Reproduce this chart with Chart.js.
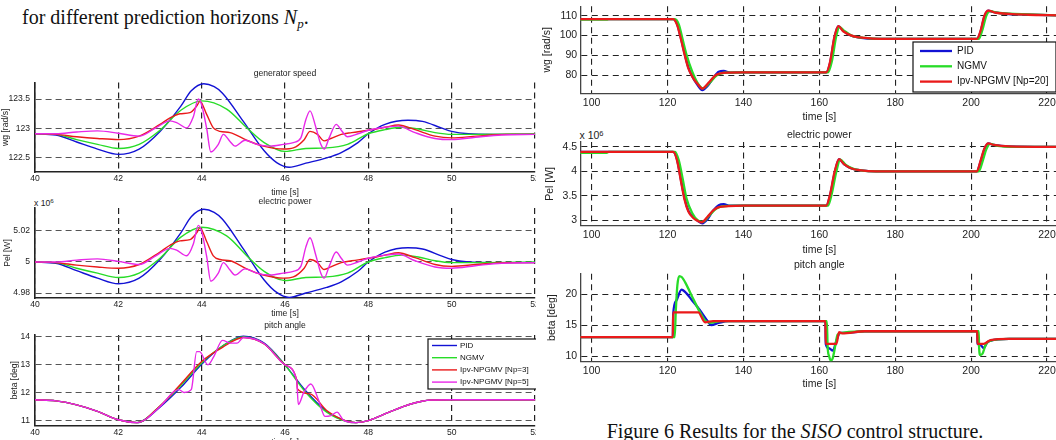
<!DOCTYPE html>
<html>
<head>
<meta charset="utf-8">
<script src="https://cdn.jsdelivr.net/npm/chart.js@4"></script>
<style>
  body { margin: 0; width: 1056px; height: 440px; overflow: hidden; background: #fff; position: relative; }
  canvas { position: absolute; }
  .serif { position: absolute; font-family: "Liberation Serif", "Times New Roman", serif; color: #111; white-space: nowrap; line-height: 1; }
  .sans { position: absolute; font-family: "Liberation Sans", Arial, sans-serif; color: #222; white-space: nowrap; line-height: 1; }
  .sup { position: relative; top: -0.45em; font-size: 0.72em; }
</style>
</head>
<body>
<div class="serif" style="left:22px;top:6.5px;font-size:20px">for different prediction horizons <i>N</i><i style="font-size:13px;position:relative;top:4px">p</i>.</div>
<div class="sans" style="left:34px;top:198.5px;font-size:8.6px">x 10<span class="sup">6</span></div>
<div class="sans" style="left:579.5px;top:130.4px;font-size:10.5px">x 10<span class="sup">6</span></div>
<div class="serif" style="left:545px;width:500px;text-align:center;top:421.3px;font-size:20px">Figure 6 Results for the <i>SISO</i> control structure.</div>

<canvas id="gs"></canvas>
<canvas id="pw"></canvas>
<canvas id="pa"></canvas>
<canvas id="rw"></canvas>
<canvas id="rp"></canvas>
<canvas id="rb"></canvas>

<script>
const F = '"Liberation Sans", Arial, Helvetica, sans-serif';
const BLUE = '#1212d4', GREEN = '#28dc28', RED = '#ea1a1a', MAG = '#e828e8';

// legends and ticks
const leftNames = ['PID', 'NGMV', 'Ipv-NPGMV [Np=3]', 'Ipv-NPGMV [Np=5]'];
const rightNames = ['PID', 'NGMV', 'Ipv-NPGMV [Np=20]'];
const leftTimeTicks = [40, 42, 44, 46, 48, 50, 52];
const rightTimeTicks = [100, 120, 140, 160, 180, 200, 220];
const gsTicks = [122.5, 123, 123.5];
const pwTicks = [4.98, 5, 5.02];
const paTicks = [11, 12, 13, 14];
const rwTicks = [80, 90, 100, 110];
const rpTicks = [3, 3.5, 4, 4.5];
const rbTicks = [10, 15, 20];

// left figure: generator speed [t, wg]
const gsPid = [[40,122.91],[40.5,122.89],[41,122.77],[41.5,122.65],[42,122.56],[42.5,122.65],[43,122.95],[43.5,123.38],[43.75,123.64],[44.05,123.76],[44.3,123.71],[44.5,123.6],[45,123.12],[45.5,122.62],[45.8,122.42],[46.1,122.34],[46.5,122.41],[47,122.5],[47.35,122.59],[47.75,122.76],[48,122.91],[48.4,123.07],[48.95,123.14],[49.3,123.12],[49.75,123.01],[50,122.95],[50.4,122.91],[51,122.9],[52,122.9]];
const gsNgmv = [[40,122.91],[40.5,122.9],[41,122.81],[41.5,122.73],[42,122.66],[42.5,122.73],[43,122.97],[43.5,123.31],[44,123.47],[44.6,123.33],[45.1,123.0],[45.5,122.76],[46,122.61],[46.5,122.66],[47,122.67],[47.5,122.73],[48,122.91],[48.4,122.98],[48.8,123.02],[49.2,122.99],[49.6,122.93],[50,122.9],[50.6,122.9],[52,122.91]];
const gsNp3 = [[40,122.91],[40.5,122.9],[41,122.86],[41.5,122.83],[42,122.81],[42.5,122.87],[43,123.07],[43.24,123.18],[43.48,123.25],[43.72,123.27],[43.88,123.38],[43.96,123.46],[44.12,123.24],[44.28,123.01],[44.44,122.95],[44.68,122.93],[45.08,122.8],[45.48,122.7],[45.96,122.65],[46.2,122.67],[46.46,122.81],[46.6,122.95],[46.78,122.9],[46.94,122.79],[47.1,122.83],[47.35,122.9],[47.6,122.93],[48,122.97],[48.4,123.02],[48.72,123.06],[49.12,122.98],[49.6,122.87],[50,122.84],[50.6,122.87],[51.3,122.9],[52,122.9]];
const gsNp5 = [[40,122.91],[40.5,122.91],[41,122.94],[41.5,122.96],[42,122.92],[42.5,122.87],[42.9,123.01],[43.24,123.13],[43.4,123.1],[43.64,123.01],[43.8,123.2],[43.92,123.5],[44,123.4],[44.12,123.0],[44.22,122.6],[44.4,122.73],[44.52,122.9],[44.68,122.78],[44.8,122.7],[45.04,122.8],[45.32,122.73],[45.64,122.7],[45.96,122.73],[46.2,122.76],[46.38,122.84],[46.5,123.15],[46.6,123.3],[46.74,123.02],[46.86,122.73],[46.94,122.65],[47.06,122.84],[47.23,123.07],[47.35,122.97],[47.5,122.86],[47.75,122.91],[48,122.97],[48.4,123.02],[48.72,123.04],[49.12,122.93],[49.6,122.83],[50,122.81],[50.57,122.85],[51.2,122.89],[52,122.9]];

// left figure: electric power [t, Pel x1e6]
const pwPid = [[40,5.0],[40.5,4.9992],[41,4.9944],[41.5,4.9896],[42,4.986],[42.5,4.9896],[43,5.0016],[43.5,5.0188],[43.75,5.0292],[44.05,5.034],[44.3,5.032],[44.5,5.0276],[45,5.0084],[45.5,4.9884],[45.8,4.9804],[46.1,4.9772],[46.5,4.98],[47,4.9836],[47.35,4.9872],[47.75,4.994],[48,5.0],[48.4,5.0064],[48.95,5.0092],[49.3,5.0084],[49.75,5.004],[50,5.0016],[50.4,5.0],[51,4.9996],[52,4.9996]];
const pwNgmv = [[40,5.0],[40.5,4.9996],[41,4.996],[41.5,4.9928],[42,4.99],[42.5,4.9928],[43,5.0024],[43.5,5.016],[44,5.0224],[44.6,5.0168],[45.1,5.0036],[45.5,4.994],[46,4.988],[46.5,4.99],[47,4.9904],[47.5,4.9928],[48,5.0],[48.4,5.0028],[48.8,5.0044],[49.2,5.0032],[49.6,5.0008],[50,4.9996],[50.6,4.9996],[52,5.0]];
const pwNp3 = [[40,5.0],[40.5,4.9996],[41,4.998],[41.5,4.9968],[42,4.996],[42.5,4.9984],[43,5.0064],[43.24,5.0108],[43.48,5.0136],[43.72,5.0144],[43.88,5.0188],[43.96,5.022],[44.12,5.0132],[44.28,5.004],[44.44,5.0016],[44.68,5.0008],[45.08,4.9956],[45.48,4.9916],[45.96,4.9896],[46.2,4.9904],[46.46,4.996],[46.6,5.0016],[46.78,4.9996],[46.94,4.9952],[47.1,4.9968],[47.35,4.9996],[47.6,5.0008],[48,5.0024],[48.4,5.0044],[48.72,5.006],[49.12,5.0028],[49.6,4.9984],[50,4.9972],[50.6,4.9984],[51.3,4.9996],[52,4.9996]];
const pwNp5 = [[40,5.0],[40.5,5.0],[41,5.0012],[41.5,5.002],[42,5.0004],[42.5,4.9984],[42.9,5.004],[43.24,5.0088],[43.4,5.0076],[43.64,5.004],[43.8,5.0116],[43.92,5.0236],[44,5.0196],[44.12,5.0036],[44.22,4.9876],[44.4,4.9928],[44.52,4.9996],[44.68,4.9948],[44.8,4.9916],[45.04,4.9956],[45.32,4.9928],[45.64,4.9916],[45.96,4.9928],[46.2,4.994],[46.38,4.9972],[46.5,5.0096],[46.6,5.0156],[46.74,5.0044],[46.86,4.9928],[46.94,4.9896],[47.06,4.9972],[47.23,5.0064],[47.35,5.0024],[47.5,4.998],[47.75,5.0],[48,5.0024],[48.4,5.0044],[48.72,5.0052],[49.12,5.0008],[49.6,4.9968],[50,4.996],[50.57,4.9976],[51.2,4.9992],[52,4.9996]];

// left figure: pitch angle [t, beta]
const paPid = [[40,11.74],[40.5,11.7],[41,11.56],[41.5,11.33],[42,11.03],[42.45,10.93],[43,11.48],[43.5,12.18],[44,13.0],[44.5,13.65],[45,14.0],[45.5,13.75],[46,12.98],[46.5,12.05],[47,11.33],[47.5,10.97],[47.7,10.93],[48,11.0],[48.5,11.3],[49,11.58],[49.5,11.73],[50,11.74],[52,11.74]];
const paNgmv = [[40,11.74],[40.5,11.7],[41,11.56],[41.5,11.33],[42,11.03],[42.45,10.93],[43,11.52],[43.5,12.25],[44,13.05],[44.5,13.65],[45,13.97],[45.5,13.73],[46,12.97],[46.5,12.0],[47,11.3],[47.5,10.96],[47.7,10.93],[48,11.0],[48.5,11.3],[49,11.58],[49.5,11.73],[50,11.74],[52,11.74]];
const paNp3 = [[40,11.74],[40.5,11.7],[41,11.56],[41.5,11.33],[42,11.03],[42.45,10.93],[43,11.52],[43.5,12.3],[44,13.1],[44.5,13.6],[45,13.95],[45.5,13.72],[46,12.98],[46.28,12.45],[46.3,12.12],[46.6,11.95],[47,11.36],[47.5,10.97],[47.7,10.93],[48,11.0],[48.5,11.3],[49,11.58],[49.5,11.73],[50,11.74],[52,11.74]];
const paNp5 = [[40,11.74],[40.5,11.7],[41,11.56],[41.5,11.33],[42,11.03],[42.45,10.93],[43,11.5],[43.35,12.05],[43.45,12.1],[43.58,12.0],[43.75,12.1],[43.88,13.45],[43.95,13.45],[44.15,12.98],[44.3,13.3],[44.5,13.85],[44.7,13.75],[44.85,13.75],[45,13.95],[45.5,13.73],[46,12.98],[46.28,12.42],[46.32,11.57],[46.45,12.0],[46.62,12.3],[46.8,11.75],[46.96,11.15],[47.1,11.18],[47.25,11.3],[47.4,11.02],[47.7,10.93],[48,11.0],[48.5,11.3],[49,11.58],[49.5,11.73],[50,11.74],[52,11.74]];

// right figure: generator speed
const rwPid = [[97,108.3],[121.5,108.3],[122.5,106],[123.5,99],[124.5,91],[125.5,84],[126.5,79.5],[127.8,75.5],[129.2,72.6],[130.5,74.5],[132,78.5],[133.5,81.8],[134.8,82.2],[136.5,81.4],[140,81.5],[161.8,81.5],[162.8,86],[164,99],[165,104.8],[166.3,102.5],[168,100.3],[171,98.8],[175,98.3],[201.5,98.3],[202.5,102],[203.5,109.5],[204.5,112.5],[206,111.8],[209,111],[215,110.6],[223,110.2]];
const rwNgmv = [[97,108],[104,108],[104.5,108.3],[122,108.3],[123,105.5],[124,98],[125,90.5],[126.5,82],[128,76],[129.3,73.5],[131,76],[133,80],[135,81.3],[140,81.5],[162.3,81.5],[163.3,87],[164.5,100],[165.3,104.3],[166.5,102.5],[168.5,100],[172,98.8],[176,98.3],[202,98.3],[203,103],[204,110],[205,112.3],[207,111.5],[210,111],[215,110.7],[223,110.2]];
const rwNp20 = [[97,108.3],[121.5,108.3],[122.5,105.5],[123.5,98.5],[124.5,90.5],[125.5,83.5],[126.8,78.5],[128,75.5],[129.2,73.3],[130.8,76.2],[132.5,79.8],[134,81],[136,81.4],[140,81.5],[161.8,81.5],[162.8,86.5],[164,99.5],[165,104.8],[166.3,102.2],[168.5,100],[172,98.8],[176,98.3],[201.5,98.3],[202.5,102.5],[203.5,110],[204.5,112.6],[206.5,111.5],[210,110.9],[215,110.5],[223,110.2]];

// right figure: electric power
const rpPid = [[97,4.4],[121.5,4.4],[122.5,4.25],[123.5,3.85],[124.5,3.45],[125.5,3.2],[126.8,3.07],[128,2.99],[129.2,2.94],[130.5,3.02],[132,3.2],[133.5,3.31],[134.8,3.33],[136.5,3.3],[161.8,3.3],[162.8,3.5],[164,3.95],[165.2,4.25],[166.5,4.15],[168.5,4.06],[171,4.02],[175,4.0],[201.5,4.0],[202.5,4.2],[203.5,4.45],[204.5,4.57],[206,4.54],[210,4.51],[223,4.5]];
const rpNgmv = [[97,4.38],[104,4.38],[104.5,4.4],[122,4.4],[123,4.22],[124,3.85],[125,3.45],[126.5,3.15],[128,3.0],[129.3,2.97],[131,3.1],[133,3.25],[135,3.29],[140,3.3],[162.3,3.3],[163.3,3.55],[164.5,4.0],[165.5,4.24],[167,4.13],[169,4.05],[172,4.01],[176,4.0],[202,4.0],[203,4.2],[204,4.45],[205,4.56],[207,4.52],[211,4.5],[223,4.5]];
const rpNp20 = [[97,4.4],[121.5,4.4],[122.5,4.23],[123.5,3.82],[124.5,3.42],[125.5,3.18],[126.8,3.05],[128,2.99],[129,2.96],[130.5,3.07],[132,3.2],[133.5,3.27],[136,3.29],[140,3.3],[161.8,3.3],[162.8,3.52],[164,3.98],[165.2,4.25],[166.5,4.15],[168.5,4.06],[171,4.02],[175,4.0],[201.5,4.0],[202.5,4.22],[203.5,4.47],[204.5,4.57],[206,4.54],[210,4.51],[223,4.5]];

// right figure: pitch angle
const rbPid = [[97,13.1],[121.4,13.1],[121.5,16.8],[122.3,19],[123.7,20.8],[125,20.2],[126.3,19.2],[128.5,17.5],[130.8,15.5],[131.5,15.05],[133.5,15.4],[136,15.7],[161.6,15.7],[161.7,12],[162.5,11.3],[163.6,10.9],[164.5,12.5],[165.5,13.8],[167,13.8],[172,14.05],[201.6,14.05],[201.7,12],[202.5,11.8],[203.3,11.3],[204.2,12.2],[205,12.5],[210,12.8],[223,12.8]];
const rbNgmv = [[97,13.1],[121.9,13.1],[122.2,17.5],[122.6,21.5],[123.1,23],[123.8,22.8],[124.9,21.7],[126.7,19.4],[128.5,17.2],[129.9,15.8],[131.3,15.4],[134,15.7],[162,15.7],[162.2,11.5],[162.6,10],[163,9.3],[163.5,9.6],[164.3,12],[164.8,13.5],[166,13.8],[172,14.05],[202,14.05],[202.1,11.5],[202.4,10.2],[203,10.4],[203.8,11.8],[204.6,12.4],[210,12.8],[223,12.8]];
const rbNp20 = [[97,13.1],[121.4,13.1],[121.5,17.1],[128.1,17.1],[129.9,15.5],[132,15.7],[161.6,15.7],[161.7,12],[164.5,12],[165.2,13.9],[166,13.7],[172,14.05],[201.6,14.05],[201.7,12],[203.3,12],[205.1,12.6],[210,12.8],[223,12.8]];

// matlab-like boxed legend drawn inside the plot
const boxLegend = {
  id: 'boxLegend',
  afterDatasetsDraw(chart, args, o) {
    if (!o.box) return;
    const ctx = chart.ctx;
    const [bx, by, bw, bh] = o.box;
    ctx.save();
    ctx.fillStyle = '#fff';
    ctx.fillRect(bx, by, bw, bh);
    ctx.strokeStyle = '#111';
    ctx.lineWidth = 1.2;
    ctx.strokeRect(bx, by, bw, bh);
    ctx.font = o.size + 'px ' + F;
    ctx.textBaseline = 'middle';
    chart.data.datasets.forEach((ds, i) => {
      const y = by + o.first + i * o.step;
      ctx.strokeStyle = ds.borderColor;
      ctx.lineWidth = ds.borderWidth;
      ctx.beginPath();
      ctx.moveTo(bx + o.line[0], y);
      ctx.lineTo(bx + o.line[1], y);
      ctx.stroke();
      ctx.fillStyle = '#111';
      ctx.fillText(ds.label, bx + o.text, y);
    });
    ctx.restore();
  }
};
Chart.register(boxLegend);

const leftStyle = { fs: 8.6, lw: 1.4, axis: '#222', aw: 1.6, gridX: '#222', gwX: 1.2, gridY: '#555', gwY: 1, dash: [6, 4], yW: 35, yPad: 5, padRight: 1, padTop: 0, xr: [40, 52], xt: leftTimeTicks, names: leftNames, colors: [BLUE, GREEN, RED, MAG] };
const rightStyle = { fs: 10.5, lw: 2.3, axis: '#444', aw: 1.3, gridX: '#222', gwX: 1.1, gridY: '#222', gwY: 1.1, dash: [6, 4.5], yW: 50.2, yPad: 3, padRight: 1.6, padTop: 0, xr: [97, 223], xt: rightTimeTicks, names: rightNames, colors: [BLUE, GREEN, RED] };

function mkChart(id, c) {
  const cv = document.getElementById(id);
  cv.width = c.w; cv.height = c.h;
  cv.style.left = c.x + 'px'; cv.style.top = c.y + 'px';
  const font = { family: F, size: c.fs };
  const n = c.series.length;
  new Chart(cv, {
    type: 'line',
    data: {
      datasets: c.series.map((s, i) => ({
        label: c.names[i],
        data: s.map(p => ({ x: p[0], y: p[1] })),
        borderColor: c.colors[i],
        borderWidth: c.lw,
        pointRadius: 0,
        fill: false,
        cubicInterpolationMode: 'monotone',
        order: n - i
      }))
    },
    options: {
      responsive: false,
      animation: false,
      events: [],
      layout: { padding: { left: 0, top: c.padTop, right: c.padRight, bottom: 0 } },
      plugins: {
        legend: { display: false },
        tooltip: { enabled: false },
        title: {
          display: !!c.title, text: c.title || '', fullSize: false, color: '#222',
          font: { family: F, size: c.fs, weight: 'normal' },
          padding: { top: c.tPad ? c.tPad[0] : 0, bottom: c.tPad ? c.tPad[1] : 0 }
        },
        boxLegend: c.legend || {}
      },
      scales: {
        x: {
          type: 'linear', min: c.xr[0], max: c.xr[1],
          afterBuildTicks: s => { s.ticks = c.xt.map(v => ({ value: v })); },
          afterFit: s => { s.height = c.xH; s.paddingLeft = 0; s.paddingRight = 0; },
          ticks: { padding: c.xPad, color: '#222', font, maxRotation: 0, autoSkip: false, callback: v => String(v) },
          grid: { color: c.gridX, lineWidth: c.gwX, drawTicks: false },
          border: { color: c.axis, width: c.aw, dash: c.dash },
          title: { display: true, text: 'time [s]', color: '#222', font, padding: { top: 0, bottom: c.xtPad } }
        },
        y: {
          type: 'linear', min: c.yr[0], max: c.yr[1],
          afterBuildTicks: s => { s.ticks = c.yt.map(v => ({ value: v })); },
          afterFit: s => { s.width = c.yW; s.paddingTop = 0; s.paddingBottom = 0; },
          ticks: { padding: c.yPad, color: '#222', font, autoSkip: false, callback: v => String(v) },
          grid: { color: c.gridY, lineWidth: c.gwY, drawTicks: false },
          border: { color: c.axis, width: c.aw, dash: c.dash },
          title: { display: true, text: c.ylab, color: '#222', font, padding: { top: c.ytPad, bottom: 0 } }
        }
      }
    }
  });
}

mkChart('gs', { ...leftStyle, x: 0, y: 66, w: 536, h: 132, title: 'generator speed', tPad: [2.84, 3.44],
  yr: [122.26, 123.78], yt: gsTicks, xH: 26, xPad: 1, xtPad: 0.44, ytPad: 0.84, ylab: 'wg [rad/s]',
  series: [gsPid, gsNgmv, gsNp3, gsNp5] });

mkChart('pw', { ...leftStyle, x: 0, y: 189, w: 536, h: 131, title: 'electric power', tPad: [7.84, 0.84],
  yr: [4.9768, 5.0348], yt: pwTicks, xH: 22, xPad: 1.84, xtPad: 0.84, ytPad: 2.84, ylab: 'Pel [W]',
  series: [pwPid, pwNgmv, pwNp3, pwNp5] });

mkChart('pa', { ...leftStyle, x: 0, y: 316, w: 536, h: 133, title: 'pitch angle', tPad: [4.84, 3.84],
  yr: [10.83, 14.04], yt: paTicks, xH: 23.6, xPad: 2.44, xtPad: 0.84, ytPad: 9.34, ylab: 'beta [deg]',
  series: [paPid, paNgmv, paNp3, paNp5],
  legend: { box: [428, 23, 109, 50], first: 6.5, step: 12.2, line: [4, 29], text: 32, size: 8 } });

mkChart('rw', { ...rightStyle, x: 530, y: 0, w: 530, h: 125, padTop: 6.2,
  yr: [70.9, 114.8], yt: rwTicks, xH: 31.6, xPad: 3.1, xtPad: 1.7, ytPad: 10.7, ylab: 'wg [rad/s]',
  series: [rwPid, rwNgmv, rwNp20],
  legend: { box: [383, 42, 143, 50], first: 9, step: 15.3, line: [7, 39], text: 44, size: 10 } });

mkChart('rp', { ...rightStyle, x: 530, y: 126, w: 530, h: 132, title: 'electric power', tPad: [3.3, 0.1],
  yr: [2.89, 4.6], yt: rpTicks, xH: 32.2, xPad: 3.4, xtPad: 1.7, ytPad: 13.7, ylab: 'Pel [W]',
  series: [rpPid, rpNgmv, rpNp20] });

mkChart('rb', { ...rightStyle, x: 530, y: 256, w: 530, h: 136, title: 'pitch angle', tPad: [2.7, 2.5],
  yr: [9.16, 23.37], yt: rbTicks, xH: 30.6, xPad: 3.3, xtPad: 1.1, ytPad: 15.7, ylab: 'beta [deg]',
  series: [rbPid, rbNgmv, rbNp20] });
</script>
</body>
</html>
